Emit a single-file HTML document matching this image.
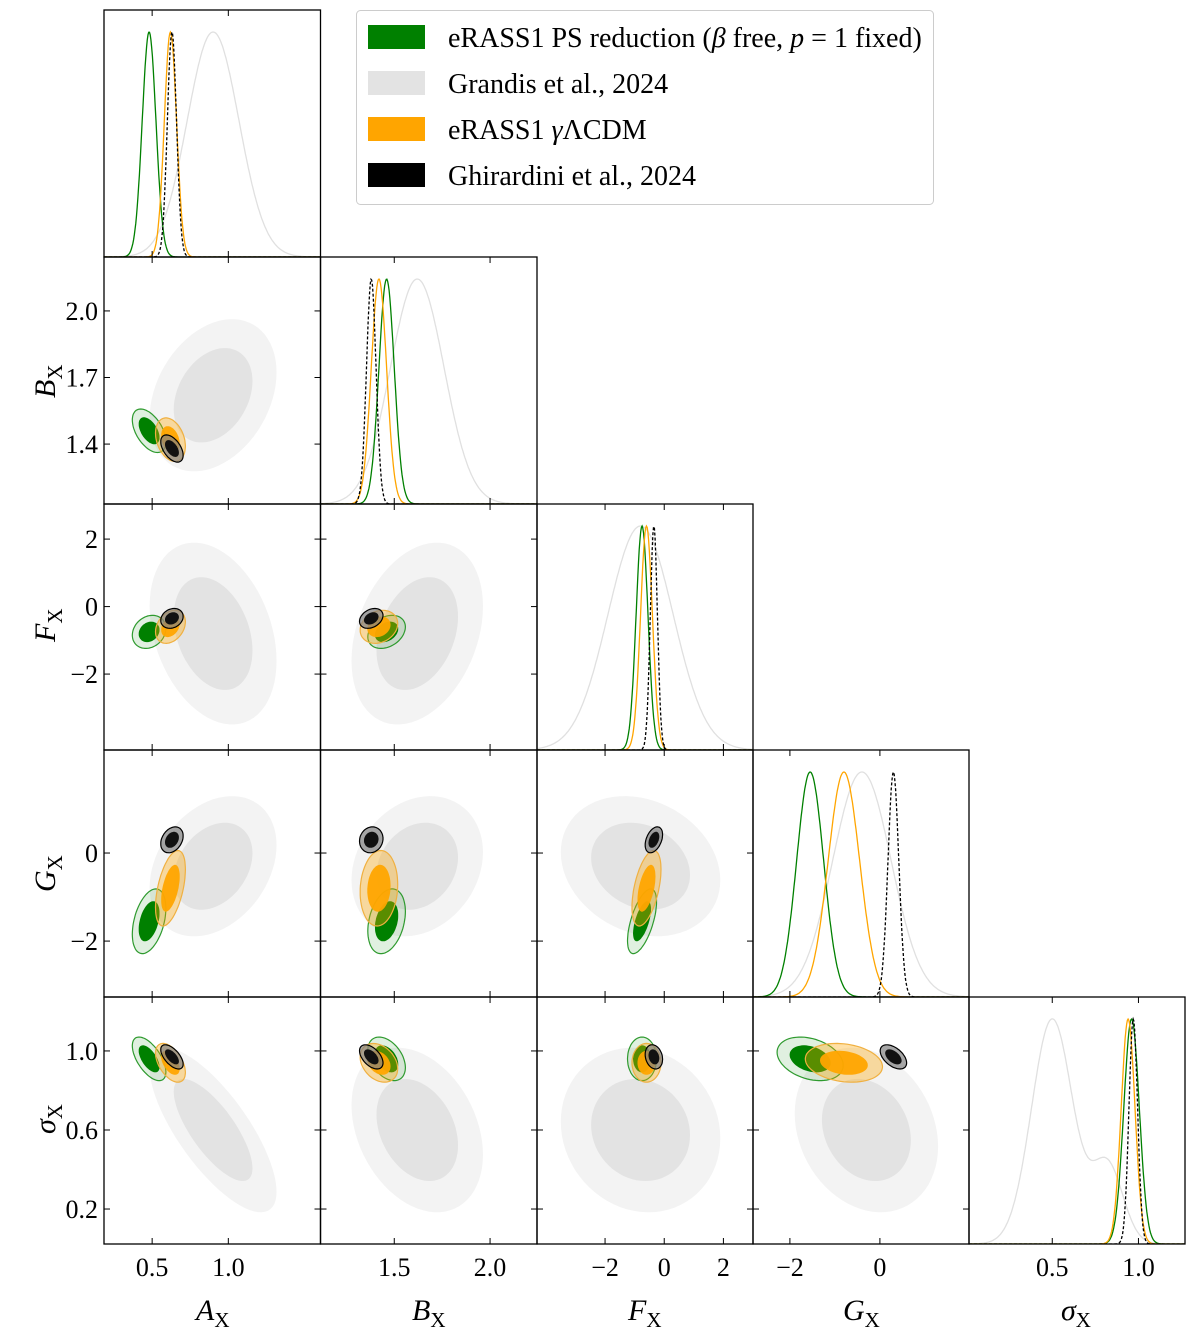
<!DOCTYPE html>
<html><head><meta charset="utf-8"><style>
body{margin:0;background:#fff;}
svg{display:block;}
text{font-family:"Liberation Serif",serif;fill:#000;}
</style></head><body>
<svg id="chart" width="1200" height="1335" viewBox="0 0 1200 1335" xmlns="http://www.w3.org/2000/svg"></svg>
<script>
// ---- data ----
const paramNames = ["A","B","F","G","s"];
const seriesNames = ["grey","green","orange","black"];
const greyMeans = [0.9, 1.62, -0.8, -0.3, 0.6];
const greySds = [0.17, 0.14, 1.1, 0.65, 0.17];
const grey1DMeans = [0.9, 1.62, -0.8, -0.4, 0.5];
const grey1DSds = [0.17, 0.14, 1.1, 0.65, 0.12];
const greySigmaShoulderMean = [0.82];
const greySigmaShoulderHeight = [0.35];
const greenMeans = [0.48, 1.46, -0.75, -1.55, 0.96];
const greenSds = [0.045, 0.04, 0.2, 0.3, 0.045];
const orangeMeans = [0.62, 1.42, -0.6, -0.8, 0.94];
const orangeSds = [0.04, 0.04, 0.2, 0.35, 0.04];
const blackMeans = [0.63, 1.38, -0.35, 0.3, 0.97];
const blackSds = [0.03, 0.025, 0.12, 0.12, 0.025];
// correlations: AB, AF, AG, As, BF, BG, Bs, FG, Fs, Gs
const greyCorr = [0.3, -0.3, 0.3, -0.75, 0.3, 0.2, -0.3, -0.2, -0.1, -0.2];
const greenCorr = [-0.5, 0.2, 0.4, -0.6, 0.3, 0.3, -0.4, 0.6, 0.0, -0.3];
const orangeCorr = [-0.3, 0.3, 0.5, -0.5, 0.2, 0.1, -0.3, 0.5, 0.0, -0.2];
const blackCorr = [-0.5, 0.2, 0.3, -0.6, 0.3, 0.1, -0.5, 0.4, -0.2, -0.5];
const xTickVals = [[0.5,1.0],[1.5,2.0],[-2,0,2],[-2,0],[0.5,1.0]];
const xTickLabels = [["0.5","1.0"],["1.5","2.0"],["\u22122","0","2"],["\u22122","0"],["0.5","1.0"]];
const yTickVals = [[],[2.0,1.7,1.4],[2,0,-2],[0,-2],[1.0,0.6,0.2]];
const yTickLabels = [[],["2.0","1.7","1.4"],["2","0","\u22122"],["0","\u22122"],["1.0","0.6","0.2"]];
const ranges = [[0.184,1.605],[1.115,2.245],[-4.3,3.0],[-2.82,1.98],[0.017,1.27]];
const yRanges = [null,[1.13,2.243],[-4.25,3.04],[-3.27,2.34],[0.023,1.273]];

const colX = [104,320.5,537,753,969,1185];
const rowY = [10,257,504,750,997,1244];
const svg = document.getElementById('chart');
const NS = "http://www.w3.org/2000/svg";
function mk(tag, attrs, parent){const e=document.createElementNS(NS,tag);for(const k in attrs)e.setAttribute(k,attrs[k]);(parent||svg).appendChild(e);return e;}
function xScale(p,v){const r=ranges[p];return colX[p]+(v-r[0])/(r[1]-r[0])*(colX[p+1]-colX[p]);}
function yScale(p,v){const r=yRanges[p];return rowY[p+1]-(v-r[0])/(r[1]-r[0])*(rowY[p+1]-rowY[p]);}
function corrIdx(i,j){const pairs=[[0,1],[0,2],[0,3],[0,4],[1,2],[1,3],[1,4],[2,3],[2,4],[3,4]];return pairs.findIndex(p=>p[0]===i&&p[1]===j);}
const S = {
 grey:{m:greyMeans,s:greySds,c:greyCorr,m1:grey1DMeans,s1:grey1DSds},
 green:{m:greenMeans,s:greenSds,c:greenCorr},
 orange:{m:orangeMeans,s:orangeSds,c:orangeCorr},
 black:{m:blackMeans,s:blackSds,c:blackCorr}
};
const style = {
 grey:{outer:["#f3f3f3",1,"none"],inner:["#e3e3e3",1,"none"],line:"#e0e0e0",dash:null},
 green:{outer:["#008000",0.12,"#2e9a2e"],inner:["#008000",1,"none"],line:"#008000",dash:null},
 orange:{outer:["#ffa500",0.35,"#f0b040"],inner:["#ffa500",0.95,"none"],line:"#ffa500",dash:null},
 black:{outer:["#808080",0.7,"#000"],inner:["#111",1,"none"],line:"#000",dash:"3,2"}
};
const defs = mk('defs',{});
for(let r=0;r<5;r++)for(let c=0;c<=r;c++){
 const cp=mk('clipPath',{id:`cp${r}${c}`},defs);
 mk('rect',{x:colX[c],y:rowY[r],width:colX[c+1]-colX[c],height:rowY[r+1]-rowY[r]},cp);
}
for(let r=1;r<5;r++)for(let c=0;c<r;c++){
 const g=mk('g',{'clip-path':`url(#cp${r}${c})`});
 
 
 for(const name of seriesNames){
  const d=S[name], rho=d.c[corrIdx(c,r)], st=style[name];
  [[2.45,'outer'],[1.52,'inner']].forEach(([k,lvl])=>{
   let pts=[];
   for(let t=0;t<=72;t++){
    const a=t/72*2*Math.PI;
    const vx=d.m[c]+d.s[c]*k*Math.cos(a);
    const vy=d.m[r]+d.s[r]*k*(rho*Math.cos(a)+Math.sqrt(1-rho*rho)*Math.sin(a));
    pts.push(xScale(c,vx).toFixed(1)+','+yScale(r,vy).toFixed(1));
   }
   const p=mk('polygon',{points:pts.join(' '),fill:st[lvl][0],'fill-opacity':st[lvl][1],stroke:st[lvl][2],'stroke-width':1.2},g);
   
   
  });
 }
}
for(let p=0;p<5;p++){
 const g=mk('g',{'clip-path':`url(#cp${p}${p})`});
 
 
 const top=rowY[p]+22, bot=rowY[p+1];
 for(const name of seriesNames){
  const d=S[name]; let pts=[];
  const mu=d.m1?d.m1[p]:d.m[p], sd=d.s1?d.s1[p]:d.s[p];
  for(let i=0;i<=300;i++){
   const v=ranges[p][0]+(ranges[p][1]-ranges[p][0])*i/300;
   const z=(v-mu)/sd;
   let h=Math.exp(-0.5*z*z);
   if(name==='grey'&&p===4){const z2=(v-greySigmaShoulderMean[0])/0.09;h+=greySigmaShoulderHeight[0]*Math.exp(-0.5*z2*z2);}
   pts.push(xScale(p,v).toFixed(1)+','+(bot-h*(bot-top)).toFixed(1));
  }
  const l=mk('polyline',{points:pts.join(' '),fill:'none',stroke:style[name].line,'stroke-width':1.3},g);
  if(style[name].dash)l.setAttribute('stroke-dasharray',style[name].dash);
  
  
 }
}
for(let r=0;r<5;r++)for(let c=0;c<=r;c++){
 const f=mk('rect',{x:colX[c],y:rowY[r],width:colX[c+1]-colX[c],height:rowY[r+1]-rowY[r],fill:'none',stroke:'#000','stroke-width':1.3});
 
 
 xTickVals[c].forEach(v=>{const x=xScale(c,v);mk('line',{x1:x,x2:x,y1:rowY[r+1],y2:rowY[r+1]-6,stroke:'#000'});mk('line',{x1:x,x2:x,y1:rowY[r],y2:rowY[r]+6,stroke:'#000'});});
 if(r>c) yTickVals[r].forEach(v=>{const y=yScale(r,v);mk('line',{x1:colX[c],x2:colX[c]+6,y1:y,y2:y,stroke:'#000'});mk('line',{x1:colX[c+1],x2:colX[c+1]-6,y1:y,y2:y,stroke:'#000'});});
}
for(let c=0;c<5;c++)xTickVals[c].forEach((v,i)=>{
 const t=mk('text',{x:xScale(c,v),y:1276,'font-size':26,'text-anchor':'middle'});t.textContent=xTickLabels[c][i];
 
});
for(let r=1;r<5;r++)yTickVals[r].forEach((v,i)=>{
 const t=mk('text',{x:98,y:yScale(r,v)+9,'font-size':26,'text-anchor':'end'});t.textContent=yTickLabels[r][i];
 
});
</script>
<svg style="position:absolute;left:0;top:0" width="1200" height="1335" xmlns="http://www.w3.org/2000/svg">
 <g font-size="30">
  <text x="196" y="1320" font-style="italic">A<tspan font-style="normal" font-size="21" dy="7">X</tspan></text>
  <text x="412" y="1320" font-style="italic">B<tspan font-style="normal" font-size="21" dy="7">X</tspan></text>
  <text x="628" y="1320" font-style="italic">F<tspan font-style="normal" font-size="21" dy="7">X</tspan></text>
  <text x="843" y="1320" font-style="italic">G<tspan font-style="normal" font-size="21" dy="7">X</tspan></text>
  <text x="1061" y="1320" font-style="italic">σ<tspan font-style="normal" font-size="21" dy="7">X</tspan></text>
 </g>
 <g font-size="30">
  <text transform="translate(55,398) rotate(-90)" font-style="italic">B<tspan font-style="normal" font-size="21" dy="7">X</tspan></text>
  <text transform="translate(55,642) rotate(-90)" font-style="italic">F<tspan font-style="normal" font-size="21" dy="7">X</tspan></text>
  <text transform="translate(55,892) rotate(-90)" font-style="italic">G<tspan font-style="normal" font-size="21" dy="7">X</tspan></text>
  <text transform="translate(55,1134) rotate(-90)" font-style="italic">σ<tspan font-style="normal" font-size="21" dy="7">X</tspan></text>
 </g>
 <g font-size="28">
  <rect x="356.5" y="10.5" width="577" height="194" rx="4" fill="#fff" stroke="#ccc"/>
  <rect x="368" y="25" width="57" height="24" fill="#008000"/>
  <text x="448" y="47">eRASS1 PS reduction (<tspan font-style="italic">β</tspan> free, <tspan font-style="italic">p</tspan> = 1 fixed)</text>
  <rect x="368" y="71" width="57" height="24" fill="#e3e3e3"/>
  <text x="448" y="93">Grandis et al., 2024</text>
  <rect x="368" y="117" width="57" height="24" fill="#ffa500"/>
  <text x="448" y="139">eRASS1 <tspan font-style="italic">γ</tspan>ΛCDM</text>
  <rect x="368" y="163" width="57" height="24" fill="#000"/>
  <text x="448" y="185">Ghirardini et al., 2024</text>
 </g>
</svg>
</body></html>
